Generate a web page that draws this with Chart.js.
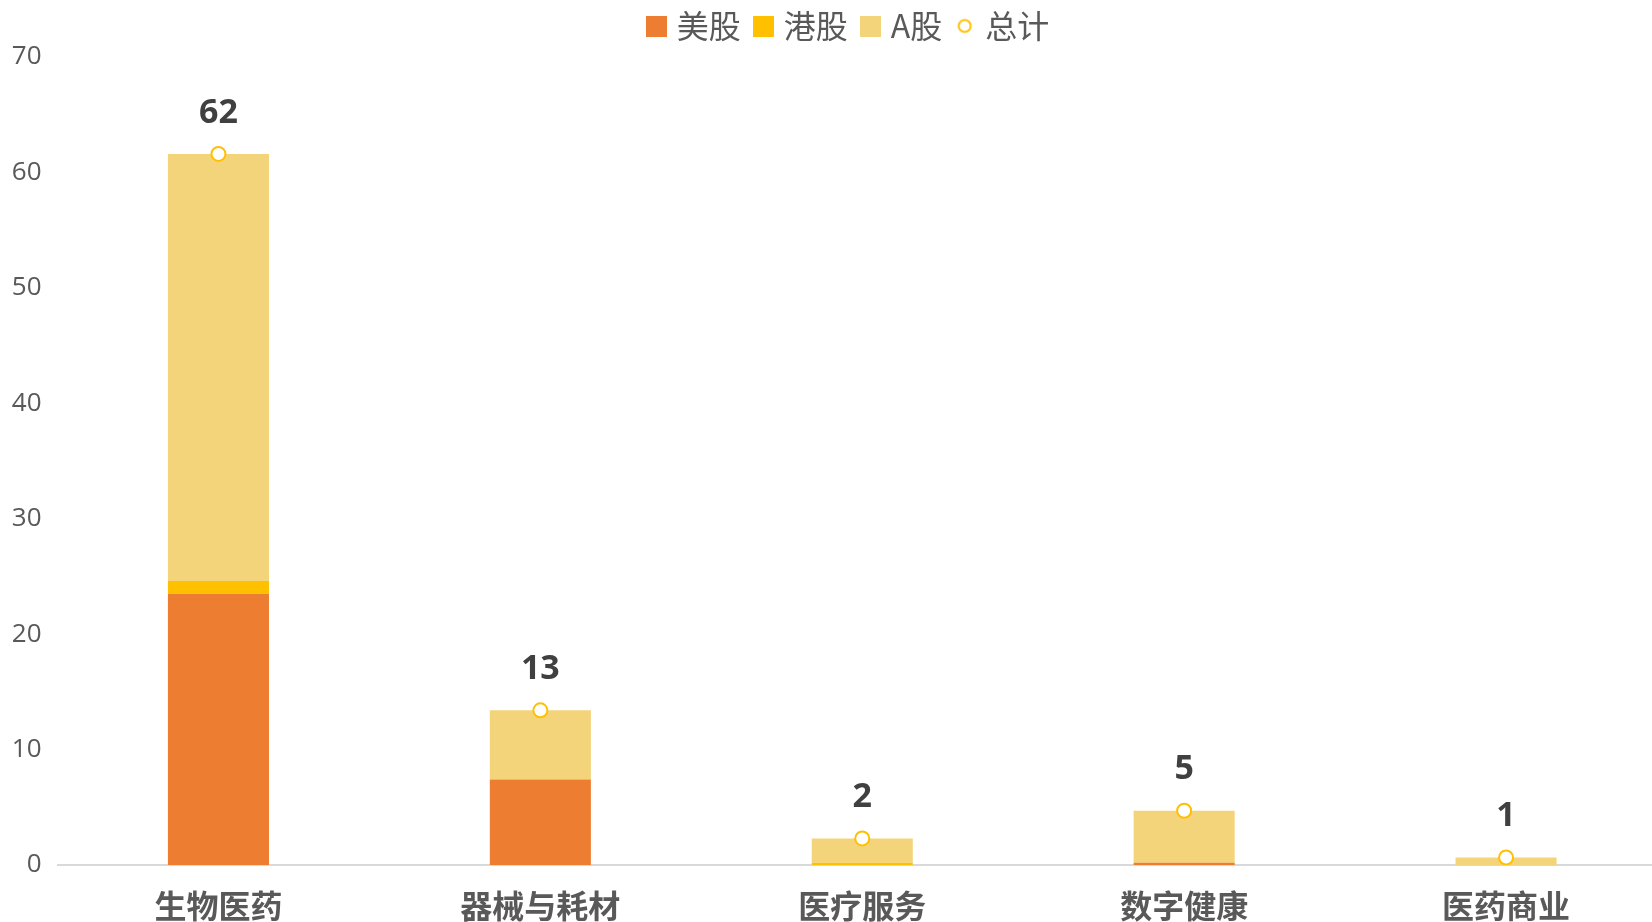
<!DOCTYPE html>
<html>
<head>
<meta charset="utf-8">
<script src="https://cdn.jsdelivr.net/npm/chart.js@4.4.0/dist/chart.umd.min.js"></script>
<style>
    html, body { margin: 0; padding: 0; overflow: hidden; background: #fff; }
</style>
</head>
<body>
<canvas id="myChart" width="1676" height="922"></canvas>
<script>
const categories = ['生物医药', '器械与耗材', '医疗服务', '数字健康', '医药商业']
const usStock = [23.5, 7.4, 0, 0.2, 0]
const hkStock = [1.1, 0, 0.2, 0, 0]
const aStock = [37.0, 6.0, 2.1, 4.5, 0.65]
const yTicks = [0, 10, 20, 30, 40, 50, 60, 70]

// total of the three markets, used for the point + rounded label
const totals = categories.map((c, i) => usStock[i] + hkStock[i] + aStock[i])

const CJK = '"Microsoft YaHei", "Noto Sans CJK SC", sans-serif'
const NUM = '"Open Sans", "Noto Sans CJK SC", sans-serif'

function swatch(color, round) {
    let c = document.createElement('canvas')
    c.width = 21
    c.height = 21
    let g = c.getContext('2d')
    if (round) {
        g.beginPath()
        g.arc(10.5, 10.5, 6, 0, Math.PI * 2)
        g.fillStyle = '#fff'
        g.fill()
        g.lineWidth = 2
        g.strokeStyle = color
        g.stroke()
    } else {
        g.fillStyle = color
        g.fillRect(0, 0, 21, 21)
    }
    return c
}

const swatches = [
    swatch('#ED7D31'),
    swatch('#FFC000'),
    swatch('#F4D47A'),
    swatch('#FFC000', true)
]

const totalLabels = {
    id: 'totalLabels',
    afterDatasetsDraw(chart) {
        let meta = chart.getDatasetMeta(3)
        let ctx = chart.ctx
        ctx.save()
        ctx.font = 'bold 34px ' + NUM
        ctx.fillStyle = '#404040'
        ctx.textAlign = 'center'
        ctx.textBaseline = 'middle'
        meta.data.forEach((pt, i) => {
            ctx.fillText(Math.round(totals[i]), pt.x, pt.y - 41)
        })
        ctx.restore()
    }
}

// legend sits a bit right of the canvas centre in the original
const legendShift = {
    id: 'legendShift',
    afterLayout(chart) {
        let dx = 850.5 - chart.width / 2
        chart.legend.left += dx
        chart.legend.right += dx
    }
}

let myChart = new Chart(document.getElementById('myChart'), {
    type: 'bar',
    data: {
        labels: categories,
        datasets: [{
            label: '美股',
            data: usStock,
            backgroundColor: '#ED7D31',
            stack: 'market'
        }, {
            label: '港股',
            data: hkStock,
            backgroundColor: '#FFC000',
            stack: 'market'
        }, {
            label: 'A股',
            data: aStock,
            backgroundColor: '#F4D47A',
            stack: 'market'
        }, {
            type: 'line',
            label: '总计',
            data: totals,
            stack: 'total',
            showLine: false,
            order: -1,
            pointRadius: 7,
            pointBorderWidth: 2,
            pointBorderColor: '#FFC000',
            pointBackgroundColor: '#FFFFFF'
        }]
    },
    options: {
        responsive: false,
        animation: false,
        datasets: {
            bar: { categoryPercentage: 1, barPercentage: 0.314 }
        },
        layout: { padding: { top: -8, left: 0, right: 0, bottom: 0 } },
        plugins: {
            tooltip: { enabled: false },
            title: {
                display: true,
                text: '',
                weight: 500,
                padding: 0,
                font: { size: 5, lineHeight: 1 }
            },
            legend: {
                position: 'top',
                labels: {
                    usePointStyle: true,
                    boxWidth: 9,
                    boxHeight: 21,
                    padding: 18,
                    color: '#595959',
                    font: { family: CJK, size: 32 },
                    sort: (a, b) => a.datasetIndex - b.datasetIndex,
                    generateLabels: (chart) => {
                        let items = Chart.defaults.plugins.legend.labels.generateLabels(chart)
                        items.forEach(it => { it.pointStyle = swatches[it.datasetIndex] })
                        return items
                    }
                }
            }
        },
        scales: {
            x: {
                stacked: true,
                grid: { display: false },
                border: { display: true, color: '#D9D9D9', width: 2 },
                ticks: {
                    color: '#595959',
                    padding: 14,
                    font: { family: CJK, size: 32, weight: 'bold' }
                },
                afterFit: (s) => {
                    s.height = 57
                    s.paddingLeft = 0
                    s.paddingRight = 0
                }
            },
            y: {
                stacked: true,
                min: 0,
                max: 70,
                grid: { display: false, drawTicks: false },
                border: { display: false },
                ticks: {
                    color: '#595959',
                    padding: 16,
                    font: { family: NUM, size: 26 }
                },
                afterBuildTicks: (s) => { s.ticks = yTicks.map(v => ({ value: v })) },
                afterFit: (s) => { s.width = 57.5 }
            }
        }
    },
    plugins: [totalLabels, legendShift]
})
</script>
</body>
</html>
